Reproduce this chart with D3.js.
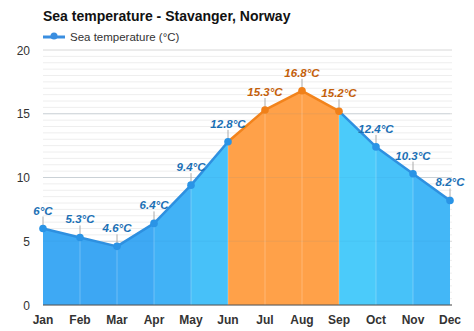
<!DOCTYPE html>
<html><head><meta charset="utf-8">
<script src="https://cdn.jsdelivr.net/npm/d3@7/dist/d3.min.js"></script>
<style>body{margin:0;background:#fff;font-family:Arial,"Liberation Sans",sans-serif}</style>
</head><body><svg id="c" width="474" height="331"></svg>
<script>
const months = ["Jan","Feb","Mar","Apr","May","Jun","Jul","Aug","Sep","Oct","Nov","Dec"];
const temps = [6, 5.3, 4.6, 6.4, 9.4, 12.8, 15.3, 16.8, 15.2, 12.4, 10.3, 8.2];
const labels = ["6°C","5.3°C","4.6°C","6.4°C","9.4°C","12.8°C","15.3°C","16.8°C","15.2°C","12.4°C","10.3°C","8.2°C"];
const yTicks = [0, 5, 10, 15, 20];

const svg = d3.select("#c");
const x = d3.scalePoint().domain(months).range([43, 450]);
const y = d3.scaleLinear().domain([0, 20]).range([305, 50]);
const blueCol = d3.scaleLinear().domain([5, 9, 13]).range(["#3da7f3", "#42b6f7", "#4bcbfa"]).clamp(true);
const isWarmPt = i => i >= 6 && i <= 8;

// title + legend
svg.append("text").attr("x", 43).attr("y", 21).attr("font-size", 14).attr("font-weight", "bold").attr("fill", "#111").text("Sea temperature - Stavanger, Norway");
svg.append("line").attr("x1", 43).attr("x2", 65).attr("y1", 37).attr("y2", 37).attr("stroke", "#3a8ee0").attr("stroke-width", 3);
svg.append("circle").attr("cx", 54).attr("cy", 36).attr("r", 3.5).attr("fill", "#3a8ee0");
svg.append("text").attr("x", 70).attr("y", 41).attr("font-size", 11.5).attr("fill", "#333").text("Sea temperature (°C)");

// grid
const minor = d3.range(0, 20.01, 0.5);
svg.append("g").selectAll("line").data(minor).join("line")
  .attr("x1", 43).attr("x2", 452).attr("y1", d => y(d)).attr("y2", d => y(d))
  .attr("stroke", d => d % 5 === 0 ? "#d8d8d8" : "#eeeeee").attr("stroke-width", 1);

// y labels
svg.append("g").selectAll("text").data(yTicks).join("text")
  .attr("x", 30).attr("y", d => y(d) + 4.5).attr("text-anchor", "end")
  .attr("font-size", 12).attr("fill", "#333").text(d => d);

// area segments
const segs = d3.range(11).map(i => ({i, a: temps[i], b: temps[i+1], warm: i >= 5 && i < 8}));
const area = d3.area().x(d => d[0]).y0(y(0)).y1(d => y(d[1]));
svg.append("g").selectAll("path").data(segs).join("path")
  .attr("d", s => area([[x(months[s.i]), s.a], [x(months[s.i+1]), s.b]]))
  .attr("fill", s => s.warm ? "#ffa149" : blueCol((s.a + s.b) / 2))
  .attr("stroke", "none");

// faint grid over area
svg.append("g").selectAll("line").data([5, 10, 15]).join("line")
  .attr("x1", 43).attr("x2", 450).attr("y1", d => y(d)).attr("y2", d => y(d))
  .attr("stroke", "#2a7fc0").attr("stroke-opacity", 0.08);

// vertical month separators
svg.append("g").selectAll("line").data(months.slice(1, 11)).join("line")
  .attr("x1", d => x(d)).attr("x2", d => x(d))
  .attr("y1", (d, i) => y(temps[i+1])).attr("y2", y(0))
  .attr("stroke", "#fff").attr("stroke-opacity", 0.25);

// line segments
svg.append("g").selectAll("line").data(segs).join("line")
  .attr("x1", s => x(months[s.i])).attr("x2", s => x(months[s.i+1]))
  .attr("y1", s => y(s.a)).attr("y2", s => y(s.b))
  .attr("stroke", s => s.warm ? "#f2831c" : "#2e90e0").attr("stroke-width", 2.5).attr("stroke-linecap", "round");

// x axis baseline
svg.append("line").attr("x1", 43).attr("x2", 452).attr("y1", y(0)).attr("y2", y(0)).attr("stroke", "#555").attr("stroke-width", 1.2);

// label ticks
svg.append("g").selectAll("line").data(months).join("line")
  .attr("x1", d => x(d)).attr("x2", d => x(d))
  .attr("y1", (d, i) => y(temps[i])).attr("y2", (d, i) => y(temps[i]) - 12)
  .attr("stroke", "#aaa").attr("stroke-width", 1);

// points
svg.append("g").selectAll("circle").data(months).join("circle")
  .attr("cx", d => x(d)).attr("cy", (d, i) => y(temps[i])).attr("r", 3.8)
  .attr("fill", (d, i) => isWarmPt(i) ? "#f08019" : "#2a94e6");

// value labels
svg.append("g").selectAll("text").data(months).join("text")
  .attr("x", d => x(d)).attr("y", (d, i) => y(temps[i]) - 14).attr("text-anchor", "middle")
  .attr("font-size", 11.5).attr("font-weight", "bold").attr("font-style", "italic")
  .attr("fill", (d, i) => isWarmPt(i) ? "#c4600a" : "#1b70b5")
  .text((d, i) => labels[i]);

// x labels
svg.append("g").selectAll("text").data(months).join("text")
  .attr("x", d => x(d)).attr("y", 324).attr("text-anchor", "middle")
  .attr("font-size", 12).attr("font-weight", "bold").attr("fill", "#333").text(d => d);
</script></body></html>
